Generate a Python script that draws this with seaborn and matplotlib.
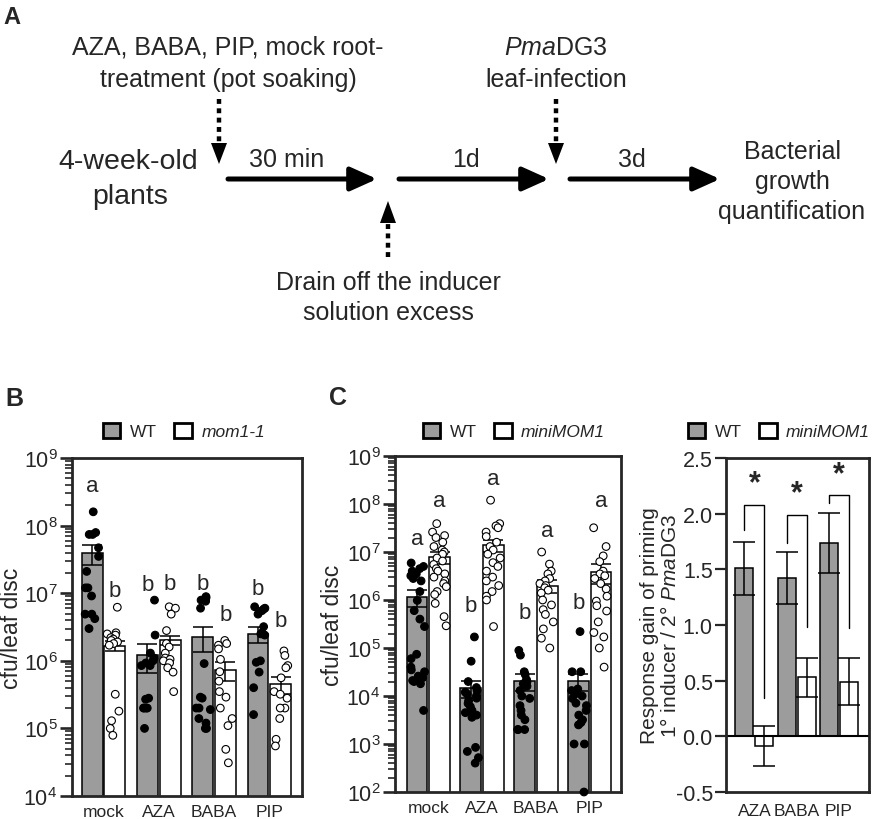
import numpy as np
import pandas as pd
import matplotlib
matplotlib.use('Agg')
import matplotlib.pyplot as plt
import seaborn as sns
from matplotlib.patches import Patch
from matplotlib.ticker import LogLocator, NullFormatter, LogFormatterSciNotation


treatments = ['mock', 'AZA', 'BABA', 'PIP']
inducers = ['AZA', 'BABA', 'PIP']

# --- panel B: WT vs mom1-1, cfu/leaf disc ---
b_wt_points = {
    'mock': [1.6e8, 7.9e7, 7.4e7, 7.4e7, 4.7e7, 3.5e7, 2.1e7, 1.2e7, 1.2e7, 9.1e6, 4.9e6, 4.9e6, 4.2e6, 3.0e6],
    'AZA': [7.9e6, 2.4e6, 1.3e6, 1.1e6, 1.0e6, 9.3e5, 8.5e5, 8.5e5, 2.8e5, 2.7e5, 2.0e5, 2.0e5, 2.0e5, 2.0e5, 1.0e5],
    'BABA': [8.9e6, 8.5e6, 7.9e6, 7.6e6, 6.0e6, 9.1e5, 2.9e5, 2.8e5, 2.0e5, 2.0e5, 1.9e5, 1.4e5, 1.2e5, 1.0e5, 1.0e5],
    'PIP': [6.3e6, 6.0e6, 5.8e6, 5.5e6, 4.9e6, 3.2e6, 2.6e6, 2.5e6, 2.4e6, 1.0e6, 9.5e5, 6.8e5, 4.0e5, 1.6e5],
}
b_mom_points = {
    'mock': [6.2e6, 2.6e6, 2.5e6, 2.4e6, 2.2e6, 2.1e6, 2.0e6, 1.9e6, 1.8e6, 1.7e6, 3.2e5, 1.8e5, 1.3e5, 1.0e5, 7.9e4],
    'AZA': [6.3e6, 6.0e6, 4.9e6, 2.8e6, 1.8e6, 1.6e6, 1.3e6, 1.1e6, 1.05e6, 1.0e6, 9.3e5, 7.9e5, 6.8e5, 3.5e5],
    'BABA': [2.0e6, 1.8e6, 1.7e6, 1.5e6, 1.05e6, 6.9e5, 5.0e5, 3.5e5, 2.9e5, 2.0e5, 1.4e5, 1.1e5, 4.9e4, 3.1e4],
    'PIP': [1.4e6, 1.2e6, 8.5e5, 7.9e5, 5.6e5, 3.5e5, 3.2e5, 2.8e5, 2.0e5, 2.0e5, 1.4e5, 6.9e4, 5.5e4],
}
b_wt_mean = [3.9e7, 1.23e6, 2.27e6, 2.49e6]
b_wt_sem = [1.3e7, 5.7e5, 9.2e5, 6.4e5]
b_mom_mean = [1.66e6, 2.04e6, 7.3e5, 4.5e5]
b_mom_sem = [2.8e5, 3.1e5, 2.2e5, 1.3e5]
b_letters_wt = ['a', 'b', 'b', 'b']
b_letters_mom = ['b', 'b', 'b', 'b']
b_letter_y_wt = [3.9e8, 1.35e7, 1.4e7, 1.17e7]
b_letter_y_mom = [1.1e7, 1.4e7, 4.9e6, 3.9e6]
b_yticks = [1e4, 1e5, 1e6, 1e7, 1e8, 1e9]

# --- panel C: WT vs miniMOM1, cfu/leaf disc ---
c_wt_points = {
    'mock': [5.9e6, 5.0e6, 4.5e6, 4.0e6, 3.5e6, 3.2e6, 2.8e6, 2.5e6, 1.5e6, 9.8e5, 6.0e5, 4.0e5, 2.8e5,
             7.4e4, 6.0e4, 4.0e4, 3.5e4, 3.2e4, 2.6e4, 2.4e4, 2.1e4, 2.0e4, 1.8e4, 5.0e3],
    'AZA': [1.7e5, 5.3e4, 2.0e4, 1.5e4, 1.3e4, 1.2e4, 1.1e4, 1.0e4, 9.0e3, 8.0e3, 7.0e3, 6.0e3, 5.0e3,
            4.5e3, 4.0e3, 3.6e3, 8.5e2, 7.0e2, 5.2e2, 4.0e2],
    'BABA': [8.9e4, 7.1e4, 3.2e4, 2.8e4, 2.2e4, 2.0e4, 1.8e4, 1.6e4, 1.3e4, 1.0e4, 8.9e3, 6.3e3, 5.0e3,
             4.0e3, 3.2e3, 2.0e3, 2.0e3, 2.0e3],
    'PIP': [2.2e5, 3.2e4, 3.2e4, 1.4e4, 1.3e4, 1.1e4, 1.0e4, 8.9e3, 7.1e3, 6.3e3, 5.0e3, 4.0e3, 3.2e3,
            2.8e3, 2.5e3, 1.0e3, 1.0e3, 1.0e2],
}
c_mini_points = {
    'mock': [3.9e7, 2.6e7, 2.2e7, 2.0e7, 1.6e7, 1.3e7, 1.1e7, 1.0e7, 9.0e6, 7.5e6, 6.5e6, 5.5e6, 4.5e6,
             4.0e6, 3.5e6, 3.0e6, 2.5e6, 2.2e6, 1.9e6, 1.5e6, 1.3e6, 8.5e5, 4.5e5, 2.9e5],
    'AZA': [1.2e8, 3.9e7, 3.5e7, 3.2e7, 2.6e7, 2.1e7, 1.6e7, 1.3e7, 1.1e7, 9.0e6, 7.5e6, 6.0e6, 5.0e6,
            4.0e6, 3.0e6, 2.5e6, 2.0e6, 1.5e6, 1.2e6, 1.0e6, 2.8e5],
    'BABA': [1.0e7, 5.6e6, 4.0e6, 3.5e6, 2.8e6, 2.5e6, 2.2e6, 2.0e6, 1.8e6, 1.6e6, 1.4e6, 1.0e6, 7.9e5,
             6.3e5, 5.0e5, 3.5e5, 2.5e5, 1.6e5, 1.0e5],
    'PIP': [3.2e7, 1.3e7, 8.3e6, 6.3e6, 4.0e6, 3.5e6, 3.2e6, 2.8e6, 2.2e6, 1.7e6, 1.2e6, 9.5e5, 7.6e5,
            5.9e5, 3.5e5, 2.1e5, 1.7e5, 1.0e5, 4.0e4],
}
c_wt_mean = [1.15e6, 1.5e4, 2.1e4, 2.1e4]
c_wt_sem = [4.3e5, 6.0e3, 8.0e3, 8.0e3]
c_mini_mean = [7.8e6, 1.38e7, 2.0e6, 3.9e6]
c_mini_sem = [2.2e6, 4.0e6, 6.0e5, 1.7e6]
c_letters_wt = ['a', 'b', 'b', 'b']
c_letters_mini = ['a', 'a', 'a', 'a']
c_letter_y_wt = [1.9e7, 7.6e5, 5.5e5, 8.9e5]
c_letter_y_mini = [1.2e8, 3.4e8, 2.8e7, 1.2e8]
c_yticks = [1e2, 1e3, 1e4, 1e5, 1e6, 1e7, 1e8, 1e9]

# --- right panel: response gain of priming ---
gain_wt = [1.51, 1.42, 1.74]
gain_wt_sem = [0.24, 0.235, 0.27]
gain_mini = [-0.09, 0.53, 0.49]
gain_mini_sem = [0.18, 0.175, 0.21]
bracket_top = [2.08, 1.99, 2.17]
bracket_left = [1.85, 1.74, 2.10]
bracket_right = [0.34, 0.98, 0.97]
star_y = [2.27, 2.18, 2.35]

GRAY = '#9c9c9c'

sns.set_style('ticks')
plt.rcParams['font.family'] = ['Liberation Sans', 'DejaVu Sans']
plt.rcParams['mathtext.fontset'] = 'custom'
plt.rcParams['mathtext.rm'] = 'Liberation Sans'
plt.rcParams['mathtext.it'] = 'Liberation Sans:italic'
plt.rcParams['mathtext.default'] = 'regular'
np.random.seed(3)

fig = plt.figure(figsize=(8.72, 8.2), dpi=100)

# overlay in pixel coords for panel A + panel letters
ax0 = fig.add_axes([0, 0, 1, 1])
ax0.set_xlim(0, 872)
ax0.set_ylim(820, 0)
ax0.axis('off')

ax0.text(12, 18, 'A', fontsize=17, fontweight='bold', ha='center', va='center')
ax0.text(14, 399, 'B', fontsize=18, fontweight='bold', ha='center', va='center')
ax0.text(338, 398, 'C', fontsize=18, fontweight='bold', ha='center', va='center')

fs = 18
ax0.text(228, 48, 'AZA, BABA, PIP, mock root-', fontsize=fs, ha='center', va='center')
ax0.text(228, 80, 'treatment (pot soaking)', fontsize=fs, ha='center', va='center')
ax0.text(556, 48, r'$\it{Pma}$DG3', fontsize=fs, ha='center', va='center')
ax0.text(556, 80, 'leaf-infection', fontsize=fs, ha='center', va='center')
ax0.text(128, 162, '4-week-old', fontsize=20.5, ha='center', va='center')
ax0.text(130, 197, 'plants', fontsize=20.5, ha='center', va='center')
ax0.text(287, 160, '30 min', fontsize=fs, ha='center', va='center')
ax0.text(466, 160, '1d', fontsize=fs, ha='center', va='center')
ax0.text(632, 160, '3d', fontsize=fs, ha='center', va='center')
ax0.text(792, 152, 'Bacterial', fontsize=fs, ha='center', va='center')
ax0.text(792, 182, 'growth', fontsize=fs, ha='center', va='center')
ax0.text(792, 212, 'quantification', fontsize=fs, ha='center', va='center')
ax0.text(388, 283, 'Drain off the inducer', fontsize=fs, ha='center', va='center')
ax0.text(388, 313, 'solution excess', fontsize=fs, ha='center', va='center')

# timeline arrows
for x0, x1 in [(228, 377), (399, 549), (570, 720)]:
    ax0.annotate('', xy=(x1, 180), xytext=(x0, 180),
                 arrowprops=dict(arrowstyle='-|>,head_length=0.8,head_width=0.36',
                                 lw=3.6, color='k', shrinkA=0, shrinkB=0, mutation_scale=20))

# dotted arrows
for x, y_start, y_base, y_tip in [(219, 100, 144, 165), (556, 100, 144, 165), (388, 258, 224, 202)]:
    ax0.plot([x, x], [y_start, y_base], color='k', lw=3.2, dashes=(1.1, 1.0), solid_capstyle='butt')
    ax0.fill([x - 8, x + 8, x], [y_base, y_base, y_tip], color='k', lw=0)


def long_table(wt_pts, other_pts, other_name):
    rows = []
    for t in treatments:
        for v in wt_pts[t]:
            rows.append((t, 'WT', v))
        for v in other_pts[t]:
            rows.append((t, other_name, v))
    return pd.DataFrame(rows, columns=['treatment', 'genotype', 'cfu'])


def summary_table(cats, wt_mean, other_mean, other_name):
    rows = [(t, 'WT', m) for t, m in zip(cats, wt_mean)]
    rows += [(t, other_name, m) for t, m in zip(cats, other_mean)]
    return pd.DataFrame(rows, columns=['treatment', 'genotype', 'value'])


def add_errbars(ax, means_by_hue, sems_by_hue, capsize):
    for cont, means, sems in zip(ax.containers, means_by_hue, sems_by_hue):
        xs = [p.get_x() + p.get_width() / 2 for p in cont.patches]
        ax.errorbar(xs, means, yerr=sems, fmt='none', ecolor='k', elinewidth=1.1,
                    capsize=capsize, capthick=1.1, zorder=3)


def add_legend(ax, other_name, cx, cy):
    handles = [Patch(facecolor=GRAY, edgecolor='k', lw=2), Patch(facecolor='white', edgecolor='k', lw=2)]
    leg = ax.legend(handles, ['WT', other_name], ncol=2, loc='center',
                    bbox_to_anchor=(cx / 872, 1 - cy / 820), bbox_transform=fig.transFigure,
                    frameon=False, fontsize=12.5, handlelength=1.0, handleheight=1.0,
                    handletextpad=0.55, columnspacing=1.0, borderpad=0)
    leg.get_texts()[1].set_style('italic')


def cfu_panel(rect, wt_pts, other_pts, other_name, wt_mean, wt_sem, other_mean, other_sem,
              ylim, yticks, xlim, letters, letter_ys, leg_xy, width):
    ax = fig.add_axes(rect)
    summ = summary_table(treatments, wt_mean, other_mean, other_name)
    pts = long_table(wt_pts, other_pts, other_name)
    sns.barplot(data=summ, x='treatment', y='value', hue='genotype', order=treatments,
                hue_order=['WT', other_name], palette={'WT': GRAY, other_name: 'white'},
                edgecolor='k', linewidth=1.1, width=width, gap=0.08, errorbar=None,
                legend=False, ax=ax)
    add_errbars(ax, [wt_mean, other_mean], [wt_sem, other_sem], capsize=7)
    sns.stripplot(data=pts, x='treatment', y='cfu', hue='genotype', order=treatments,
                  hue_order=['WT', other_name], palette={'WT': 'black', other_name: 'white'},
                  dodge=True, jitter=0.28, size=5.5, edgecolor='black', linewidth=0.8,
                  legend=False, zorder=4, clip_on=False, ax=ax)
    ax.set_yscale('log')
    ax.set_ylim(*ylim)
    ax.set_xlim(*xlim)
    ax.set_yticks(yticks)
    ax.yaxis.set_major_formatter(LogFormatterSciNotation())
    ax.yaxis.set_minor_locator(LogLocator(base=10, subs=np.arange(2, 10), numticks=100))
    ax.yaxis.set_minor_formatter(NullFormatter())
    ax.set_ylim(*ylim)
    for s in ax.spines.values():
        s.set_linewidth(2)
    ax.tick_params(axis='y', which='major', length=9, width=1.9, labelsize=15.5, pad=1.5)
    ax.tick_params(axis='y', which='minor', length=5, width=1.2)
    ax.tick_params(axis='x', length=0, labelsize=12.5, pad=6)
    ax.set_xlabel('')
    ax.set_ylabel('cfu/leaf disc', fontsize=16.5)
    # group letters
    for cont, labs, ys in zip(ax.containers, letters, letter_ys):
        for p, lab, y in zip(cont.patches, labs, ys):
            ax.text(p.get_x() + p.get_width() / 2, y, lab, fontsize=16, ha='center', va='center')
    add_legend(ax, other_name, *leg_xy)
    return ax


axB = cfu_panel([72 / 872, 23 / 820, 230 / 872, 338 / 820], b_wt_points, b_mom_points, 'mom1-1',
                b_wt_mean, b_wt_sem, b_mom_mean, b_mom_sem, (1e4, 1e9), b_yticks, (-0.57, 3.59),
                [b_letters_wt, b_letters_mom], [b_letter_y_wt, b_letter_y_mom], (184, 432), 0.82)
axB.yaxis.set_label_coords(-0.215, 0.5)

axC = cfu_panel([395 / 872, 27 / 820, 226 / 872, 336 / 820], c_wt_points, c_mini_points, 'miniMOM1',
                c_wt_mean, c_wt_sem, c_mini_mean, c_mini_sem, (1e2, 1e9), c_yticks, (-0.62, 3.58),
                [c_letters_wt, c_letters_mini], [c_letter_y_wt, c_letter_y_mini], (514, 432), 0.84)
axC.yaxis.set_label_coords(-0.225, 0.5)

# right panel
axR = fig.add_axes([726 / 872, 27 / 820, 143 / 872, 334 / 820])
summR = summary_table(inducers, gain_wt, gain_mini, 'miniMOM1')
sns.barplot(data=summR, x='treatment', y='value', hue='genotype', order=inducers,
            hue_order=['WT', 'miniMOM1'], palette={'WT': GRAY, 'miniMOM1': 'white'},
            edgecolor='k', linewidth=1.1, width=0.95, gap=0.1, errorbar=None,
            legend=False, ax=axR)
add_errbars(axR, [gain_wt, gain_mini], [gain_wt_sem, gain_mini_sem], capsize=8)
axR.axhline(0, color='k', lw=1.5, zorder=2)
wt_x = [p.get_x() + p.get_width() / 2 for p in axR.containers[0].patches]
mini_x = [p.get_x() + p.get_width() / 2 for p in axR.containers[1].patches]
for xl, xr, top, yl, yr, sy in zip(wt_x, mini_x, bracket_top, bracket_left, bracket_right, star_y):
    axR.plot([xl, xl, xr, xr], [yl, top, top, yr], color='k', lw=1.0, zorder=5)
    axR.text((xl + xr) / 2, sy, '*', fontsize=22, fontweight='bold', ha='center', va='center')
axR.set_ylim(-0.5, 2.5)
axR.set_xlim(-0.67, 2.71)
axR.set_yticks([-0.5, 0.0, 0.5, 1.0, 1.5, 2.0, 2.5])
axR.set_yticklabels(['-0.5', '0.0', '0.5', '1.0', '1.5', '2.0', '2.5'])
for s in axR.spines.values():
    s.set_linewidth(2)
axR.tick_params(axis='y', length=8, width=1.6, labelsize=15.5, pad=1.5)
axR.tick_params(axis='x', length=0, labelsize=12.5, pad=8)
axR.set_xlabel('')
axR.set_ylabel('Response gain of priming\n1\u00b0 inducer / 2\u00b0 $\\it{Pma}$DG3', fontsize=15,
               linespacing=1.05)
axR.yaxis.set_label_coords(-0.32, 0.5)
add_legend(axR, 'miniMOM1', 779, 432)

fig.savefig('out.png', dpi=100)
